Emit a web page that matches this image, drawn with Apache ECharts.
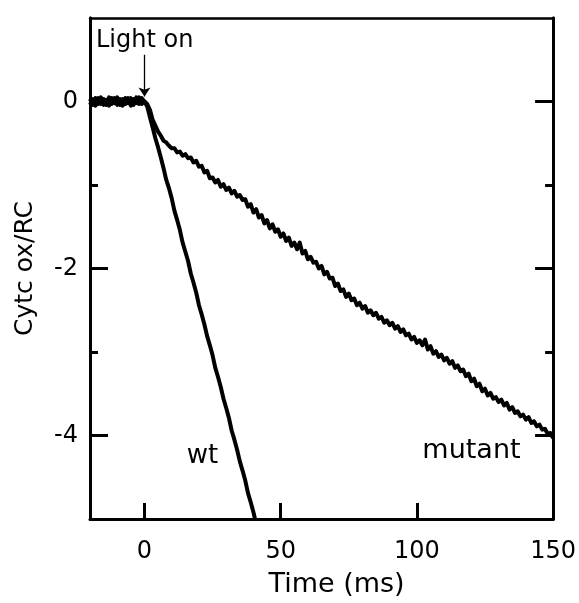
<!DOCTYPE html>
<html>
<head>
<meta charset="utf-8">
<script src="https://cdn.jsdelivr.net/npm/echarts@6/dist/echarts.min.js"></script>
<style>
  html, body { margin: 0; padding: 0; background: #fff; }
  #chart { width: 579px; height: 603px; }
</style>
</head>
<body>
<div id="chart"></div>
<script>
// Cytochrome c oxidation per reaction centre after a light flash at t = 0.
// Sampling: one reading per millisecond.
const sampleStepMs = 1;

// Dark baseline before the flash (t = -20 ... -1 ms), one per trace
const wtBaseline = [-0.04, 0.03, -0.05, 0.04, -0.03, 0.03, -0.04, 0.05, -0.03, 0.04,
                    -0.04, 0.03, -0.05, 0.04, -0.02, 0.04, -0.04, 0.05, -0.03, 0.04];
const mutantBaseline = [0.03, -0.04, 0.04, -0.03, 0.05, -0.04, 0.02, -0.05, 0.04, -0.02,
                        0.05, -0.04, 0.03, -0.03, 0.04, -0.05, 0.03, -0.02, 0.05, -0.03];

// Wild type after the flash (t = 0 ... 41 ms)
const wtSignal = [0.00, -0.06, -0.19, -0.31, -0.44, -0.55, -0.67, -0.80, -0.94, -1.04,
                  -1.16, -1.31, -1.42, -1.54, -1.69, -1.80, -1.91, -2.06, -2.17, -2.29,
                  -2.44, -2.55, -2.67, -2.81, -2.92, -3.04, -3.19, -3.30, -3.42, -3.56,
                  -3.67, -3.79, -3.94, -4.05, -4.17, -4.31, -4.42, -4.54, -4.69, -4.80,
                  -4.92, -5.06];

// Mutant after the flash (t = 0 ... 150 ms)
const mutantSignal = [
  0.00, -0.03, -0.10, -0.22, -0.29, -0.36, -0.41, -0.47, -0.49, -0.53,
  -0.56, -0.56, -0.61, -0.60, -0.65, -0.63, -0.68, -0.67, -0.73, -0.71,
  -0.78, -0.77, -0.85, -0.83, -0.92, -0.91, -0.97, -0.94, -1.02, -0.99,
  -1.06, -1.03, -1.10, -1.07, -1.14, -1.12, -1.18, -1.17, -1.26, -1.23,
  -1.33, -1.29, -1.39, -1.36, -1.46, -1.42, -1.52, -1.47, -1.56, -1.53,
  -1.62, -1.58, -1.67, -1.63, -1.73, -1.69, -1.77, -1.69, -1.82, -1.79,
  -1.89, -1.86, -1.93, -1.92, -2.00, -1.97, -2.07, -2.04, -2.12, -2.11,
  -2.21, -2.18, -2.27, -2.25, -2.34, -2.30, -2.38, -2.36, -2.44, -2.41,
  -2.48, -2.45, -2.53, -2.50, -2.56, -2.53, -2.60, -2.58, -2.65, -2.62,
  -2.68, -2.65, -2.72, -2.69, -2.76, -2.73, -2.80, -2.78, -2.85, -2.82,
  -2.89, -2.86, -2.92, -2.85, -2.97, -2.93, -3.02, -2.99, -3.06, -3.03,
  -3.10, -3.07, -3.14, -3.11, -3.19, -3.16, -3.23, -3.21, -3.29, -3.26,
  -3.35, -3.32, -3.41, -3.38, -3.47, -3.44, -3.52, -3.49, -3.56, -3.54,
  -3.60, -3.57, -3.64, -3.61, -3.69, -3.66, -3.73, -3.71, -3.77, -3.75,
  -3.81, -3.78, -3.85, -3.83, -3.89, -3.87, -3.93, -3.92, -3.98, -3.97,
  -4.03];

// Axis ticks
const xMajorTicks = [0, 50, 100, 150];
const yMajorTicks = [0, -2, -4];
const yMinorTicks = [-1, -3];

// Text annotations, anchored in data coordinates (time ms, signal)
const annotationText = ['Light on', 'wt', 'mutant'];
const annotationAnchor = [[-17.8, 0.58], [15.5, -4.41], [102, -4.35]];
const flashArrow = [[0, 0.56], [0, 0.06]];

function toPairs(startMs, values) {
  return values.map((v, i) => [startMs + i * sampleStepMs, v]);
}

const wtData = toPairs(-20, wtBaseline).concat(toPairs(0, wtSignal));
const mutantData = toPairs(-20, mutantBaseline).concat(toPairs(0, mutantSignal));

const FONT = 'DejaVu Sans';
const INK = '#000';
const lineW = 3;

function yAxisDef(position, ticks, len, withLabels) {
  return {
    type: 'value', position: position, min: -5, max: 1,
    axisLine: { show: true, onZero: false, lineStyle: { color: INK, width: lineW } },
    axisTick: { show: true, inside: true, length: len, customValues: ticks,
                lineStyle: { color: INK, width: lineW } },
    axisLabel: withLabels ? { show: true, customValues: ticks, margin: 12,
                fontFamily: FONT, fontSize: 24, color: INK } : { show: false },
    splitLine: { show: false }
  };
}

const chart = echarts.init(document.getElementById('chart'), null, { renderer: 'canvas' });

const option = {
  animation: false,
  backgroundColor: '#fff',
  grid: { left: 90, right: 25, top: 18, bottom: 81 },
  xAxis: [
    {
      type: 'value', position: 'bottom', min: -20, max: 150,
      name: 'Time (ms)', nameLocation: 'middle', nameGap: 52,
      nameTextStyle: { fontFamily: FONT, fontSize: 27, color: INK, padding: [0, 0, 0, 30] },
      axisLine: { show: true, onZero: false, lineStyle: { color: INK, width: lineW } },
      axisTick: { show: true, inside: true, length: 16, customValues: xMajorTicks,
                  lineStyle: { color: INK, width: lineW } },
      axisLabel: { show: true, customValues: xMajorTicks, margin: 21,
                   fontFamily: FONT, fontSize: 24, color: INK },
      splitLine: { show: false }
    },
    {
      type: 'value', position: 'top', min: -20, max: 150,
      axisLine: { show: true, onZero: false, lineStyle: { color: INK, width: 2.5 } },
      axisTick: { show: false }, axisLabel: { show: false }, splitLine: { show: false }
    }
  ],
  yAxis: [
    Object.assign(yAxisDef('left', yMajorTicks, 18, true), {
      name: 'Cytc ox/RC', nameLocation: 'middle', nameGap: 52, nameRotate: 90,
      nameTextStyle: { fontFamily: FONT, fontSize: 25, color: INK }
    }),
    yAxisDef('left', yMinorTicks, 8, false),
    yAxisDef('right', yMajorTicks, 18, false),
    yAxisDef('right', yMinorTicks, 8, false)
  ],
  series: [
    {
      name: 'wt', type: 'line', xAxisIndex: 0, yAxisIndex: 0, data: wtData,
      showSymbol: false, clip: true,
      lineStyle: { color: INK, width: 4, join: 'round' }
    },
    {
      name: 'mutant', type: 'line', xAxisIndex: 0, yAxisIndex: 0, data: mutantData,
      showSymbol: false, clip: true,
      lineStyle: { color: INK, width: 4, join: 'round' },
      // flash marker: thin arrow from the label down to the trace
      markLine: {
        silent: true, symbol: ['none', 'arrow'], symbolSize: 9,
        label: { show: false },
        lineStyle: { color: INK, width: 1.3, type: 'solid' },
        data: [[{ coord: flashArrow[0] }, { coord: flashArrow[1] }]]
      }
    }
  ]
};

chart.setOption(option);

// Annotation texts placed through the chart's own coordinate conversion
const textSizes = [24, 26, 27];
chart.setOption({
  graphic: annotationText.map((t, i) => {
    const p = chart.convertToPixel({ xAxisIndex: 0, yAxisIndex: 0 }, annotationAnchor[i]);
    return {
      type: 'text', x: p[0], y: p[1], silent: true,
      style: { text: t, fontFamily: FONT, fontSize: textSizes[i], fill: INK,
               textAlign: 'left', textVerticalAlign: 'bottom' }
    };
  })
});
</script>
</body>
</html>
